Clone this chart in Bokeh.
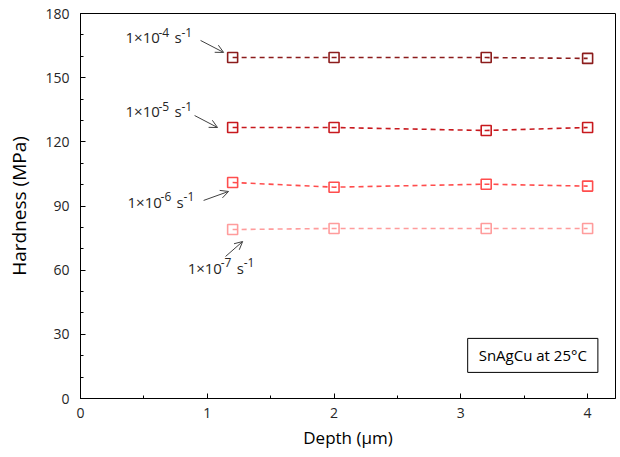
from bokeh.plotting import figure
from bokeh.models import (Range1d, SingleIntervalTicker, Arrow, OpenHead, Label,
                          ColumnDataSource)
from bokeh.core.properties import value
from bokeh.embed import file_html
from bokeh.resources import INLINE

# ---- data ----
depth = [1.2, 2.0, 3.2, 4.0]
h_1e4 = [159.4, 159.4, 159.4, 159.0]
h_1e5 = [126.7, 126.7, 125.3, 126.7]
h_1e6 = [101.0, 98.8, 100.2, 99.3]
h_1e7 = [79.0, 79.5, 79.5, 79.5]
series = [h_1e4, h_1e5, h_1e6, h_1e7]
colors = ["#8C1C1C", "#C8191E", "#FF4D4D", "#FF9C9C"]
exponents = ["-4", "-5", "-6", "-7"]

# annotation layout (data coords)
label_x = [0.355, 0.355, 0.371, 0.845]
label_y = [168.8, 134.2, 92.1, 61.2]
arrow_start = [(0.947, 167.4), (0.900, 132.3), (0.971, 92.6), (1.144, 66.4)]
arrow_end = [(1.129, 161.8), (1.081, 126.7), (1.168, 96.8), (1.279, 73.4)]

FONT = "Open Sans"
TXT = "#262626"

p = figure(width=617, height=457, output_backend="svg", toolbar_location=None,
           x_range=Range1d(0, 4.22), y_range=Range1d(0, 180),
           min_border_left=80, min_border_top=13, min_border_right=2,
           min_border_bottom=59)
p.xgrid.visible = False
p.ygrid.visible = False
p.outline_line_color = "black"
p.outline_line_width = 1
p.background_fill_color = "white"

p.xaxis.ticker = SingleIntervalTicker(interval=1, num_minor_ticks=2)
p.yaxis.ticker = SingleIntervalTicker(interval=30, num_minor_ticks=3)
for ax in (p.xaxis, p.yaxis):
    ax.axis_line_color = "black"
    ax.major_tick_in = 5
    ax.major_tick_out = 0
    ax.minor_tick_in = 3
    ax.minor_tick_out = 0
    ax.major_tick_line_color = "black"
    ax.minor_tick_line_color = "black"
    ax.major_label_text_font = FONT
    ax.major_label_text_font_size = "14px"
    ax.major_label_text_color = TXT
    ax.axis_label_text_font = FONT
    ax.axis_label_text_font_style = "normal"
    ax.axis_label_text_color = "black"
p.xaxis.axis_label_text_font_size = "17px"
p.yaxis.axis_label_text_font_size = "19px"
p.xaxis.axis_label = "Depth (µm)"
p.yaxis.axis_label = "Hardness (MPa)"
p.xaxis.major_label_standoff = 9
p.yaxis.major_label_standoff = 11
p.xaxis.axis_label_standoff = 5
p.yaxis.axis_label_standoff = 10

for ys, c in zip(series, colors):
    src = ColumnDataSource(dict(x=depth, y=ys))
    p.line("x", "y", source=src, line_color=c, line_width=1.6, line_dash="5 4")
    p.scatter("x", "y", source=src, marker="square", size=10, fill_color=None,
              line_color=c, line_width=1.6)

# rate labels with superscripts
for lx, ly, ex in zip(label_x, label_y, exponents):
    pieces = [("1×10", 0, 0, "15px"), (ex, 33, 5, "12px"),
              ("s", 49, 0, "15px"), ("-1", 56, 5, "12px")]
    for t, dx, dy, fs in pieces:
        p.text(x=[lx], y=[ly], text=[t], x_offset=dx, y_offset=-dy,
               text_font=value(FONT), text_font_size=fs, text_color=TXT,
               text_align="left", text_baseline="middle")

for (x0, y0), (x1, y1) in zip(arrow_start, arrow_end):
    p.add_layout(Arrow(x_start=x0, y_start=y0, x_end=x1, y_end=y1,
                       line_color="#404040", line_width=1,
                       end=OpenHead(size=8, line_color="#404040", line_width=1)))

box = Label(x=3.054, y=12.2, text="SnAgCu at 25°C", text_font=FONT,
            text_font_size="15px", text_color="black",
            border_line_color="black", border_line_width=1,
            background_fill_color="white",
            padding=dict(left=11, right=11, top=7, bottom=7))
p.add_layout(box)

open("out.html", "w").write(file_html(p, INLINE))
